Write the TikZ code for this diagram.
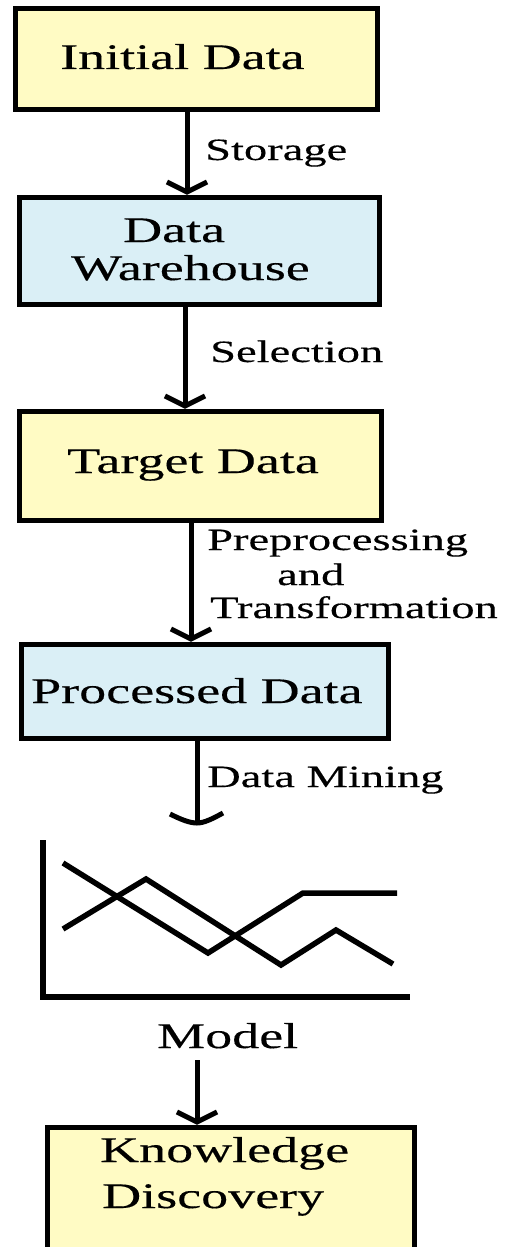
\documentclass[tikz,border=0pt]{standalone}
\usepackage{fontspec}
\newfontfamily\tf[FakeStretch=1.5,FakeBold=0.3]{Liberation Serif}
\usetikzlibrary{arrows.meta}
\definecolor{boxyellow}{RGB}{255,251,196}
\definecolor{boxblue}{RGB}{218,239,246}
\tikzset{
  box/.style={draw=black, line width=5.5pt, rectangle, inner sep=0pt},
  ybox/.style={box, fill=boxyellow},
  bbox/.style={box, fill=boxblue},
  big/.style={font=\tf\fontsize{36}{40}\selectfont, inner sep=0pt, anchor=base west},
  lab/.style={font=\tf\fontsize{31}{35}\selectfont, inner sep=0pt, anchor=base west},
  conn/.style={line width=5pt, -{Straight Barb[length=10pt,width=40pt]}},
  plainconn/.style={line width=5pt},
  chartline/.style={line width=5.5pt, line join=miter},
}
\begin{document}
\begin{tikzpicture}[x=1pt,y=-1pt]
\clip (0,0) rectangle (504,1247);
\fill[white] (0,0) rectangle (504,1247);
% boxes
\node[ybox, minimum width=362pt, minimum height=101pt] (b1) at (196.5,59) {};
\node[bbox, minimum width=360pt, minimum height=107pt] (b2) at (199.5,251) {};
\node[ybox, minimum width=362pt, minimum height=109pt] (b3) at (200.5,466) {};
\node[bbox, minimum width=367pt, minimum height=94pt] (b4) at (205,691.5) {};
\node[ybox, minimum width=367pt, minimum height=142.5pt] (b5) at (231,1198.75) {};
% box texts
\node[big] (t1) at (60,69) {Initial Data};
\node[big] (t2a) at (123,242) {Data};
\node[big] (t2b) at (71,280) {Warehouse};
\node[big] (t3) at (67,473) {Target Data};
\node[big] (t4) at (31,703) {Processed Data};
\node[big] (t5a) at (100,1162) {Knowledge};
\node[big] (t5b) at (102,1208) {Discovery};
% labels
\node[lab] (l1) at (205,160) {Storage};
\node[lab] (l2) at (210,362) {Selection};
\node[lab] (l3a) at (207,550) {Preprocessing};
\node[lab] (l3b) at (277,585) {and};
\node[lab] (l3c) at (210,618) {Transformation};
\node[lab] (l4) at (207,787) {Data Mining};
\node[big] (model) at (157,1048) {Model};
% connectors
\draw[conn] ([xshift=-9.5pt]b1.south) -- ([xshift=-12.5pt]b2.north);
\draw[conn] ([xshift=-14.5pt]b2.south) -- ([xshift=-15.5pt]b3.north);
\draw[conn] ([xshift=-9.5pt]b3.south) -- ([xshift=-14pt]b4.north);
\coordinate (tip) at (197,823);
\draw[plainconn] ([xshift=-8pt]b4.south) -- (tip);
\draw[line width=5pt] (170,814) .. controls (182,820) and (190,823) .. (tip)
  .. controls (204,823) and (212,819) .. (223,813);
\coordinate (mstart) at (197,1060);
\draw[conn] (mstart) -- ([xshift=-34pt]b5.north);
% chart
\draw[line width=6pt] (43,840) -- (43,997) -- (410,997);
\draw[chartline] (63,863) -- (208,953) -- (303,893) -- (397,893);
\draw[chartline] (63,929) -- (146,879) -- (281,965) -- (336,930) -- (393,964);
\end{tikzpicture}
\end{document}
